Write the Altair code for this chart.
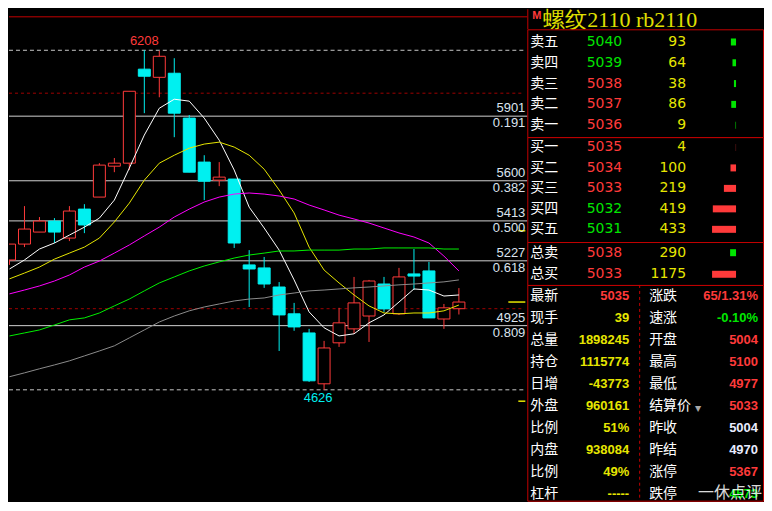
import altair as alt
import pandas as pd

# ---------------- candles ----------------
opens  = [5231, 5305, 5361, 5412, 5333, 5468, 5524, 5668, 5682, 6120, 6082, 6101, 5892, 5687, 5603, 5608,
          5208, 5194, 5105, 4980, 4891, 4654, 4845, 4910, 4970, 5119, 4980, 5166, 5180, 4956, 5004]
highs  = [5305, 5482, 5431, 5426, 5482, 5491, 5682, 5706, 6017, 6208, 6205, 6171, 5906, 5719, 5687, 5608,
          5277, 5245, 5128, 5031, 4910, 4854, 5008, 5152, 5138, 5152, 5194, 5282, 5222, 5026, 5100]
lows   = [5208, 5291, 5361, 5310, 5319, 5356, 5524, 5640, 5650, 5915, 5989, 5803, 5640, 5510, 5575, 5287,
          5012, 5101, 4807, 4901, 4663, 4626, 4826, 4887, 4849, 4989, 4975, 5091, 4961, 4910, 4977]
closes = [5305, 5375, 5412, 5361, 5459, 5394, 5673, 5682, 6017, 6087, 6180, 5915, 5640, 5598, 5617, 5310,
          5189, 5119, 4975, 4919, 4668, 4821, 4938, 5031, 5133, 5003, 5152, 5156, 4961, 5008, 5035]

ma5  = [5189, 5231, 5282, 5310, 5347, 5384, 5426, 5510, 5659, 5813, 5938, 5980, 5971, 5892, 5789, 5650,
        5477, 5380, 5277, 5138, 4989, 4915, 4877, 4887, 4938, 4975, 5035, 5096, 5091, 5063, 5068]
ma10 = [5143, 5170, 5198, 5235, 5263, 5291, 5333, 5408, 5496, 5603, 5682, 5719, 5752, 5771, 5780, 5757,
        5719, 5654, 5557, 5450, 5291, 5184, 5124, 5068, 5017, 4984, 4980, 4984, 4984, 4994, 5021]
ma20 = [5073, 5091, 5110, 5133, 5161, 5198, 5226, 5263, 5301, 5343, 5384, 5431, 5468, 5501, 5524, 5538,
        5543, 5538, 5529, 5515, 5487, 5464, 5440, 5422, 5403, 5380, 5357, 5338, 5310, 5249, 5180]
ma40 = [4877, 4891, 4905, 4928, 4952, 4961, 4984, 5017, 5049, 5087, 5124, 5152, 5180, 5203, 5222, 5240,
        5254, 5263, 5273, 5273, 5277, 5277, 5277, 5282, 5282, 5287, 5287, 5287, 5287, 5282, 5282]
ma60 = [4687, 4705, 4724, 4742, 4761, 4784, 4807, 4831, 4868, 4905, 4942, 4970, 4994, 5012, 5026, 5040,
        5049, 5054, 5068, 5077, 5087, 5091, 5096, 5101, 5105, 5110, 5115, 5119, 5124, 5129, 5138]
ma_names = ["MA5", "MA10", "MA20", "MA40", "MA60"]

fib_levels = [5901, 5600, 5413, 5227, 4925]
fib_ratios = ["0.191", "0.382", "0.500", "0.618", "0.809"]
period_high, period_low = 6208, 4626
high_idx, low_idx = 9, 21
red_dash_levels = [6008, 5004]
last_price = 5035
limit_up, limit_down = 5367, 4573

# ---------------- quote panel ----------------
contract, code = "螺纹2110", "rb2110"
sell_names  = ["卖五", "卖四", "卖三", "卖二", "卖一"]
sell_prices = [5040, 5039, 5038, 5037, 5036]
sell_qty    = [93, 64, 38, 86, 9]
sell_dir    = ["down", "down", "up", "up", "up"]
buy_names   = ["买一", "买二", "买三", "买四", "买五"]
buy_prices  = [5035, 5034, 5033, 5032, 5031]
buy_qty     = [4, 100, 219, 419, 433]
buy_dir     = ["up", "up", "up", "down", "down"]
tot_names   = ["总卖", "总买"]
tot_prices  = [5038, 5033]
tot_qty     = [290, 1175]
tot_side    = ["sell", "buy"]

stat_l_names = ["最新", "现手", "总量", "持仓", "日增", "外盘", "比例", "内盘", "比例", "杠杆"]
stat_l_vals  = ["5035", "39", "1898245", "1115774", "-43773", "960161", "51%", "938084", "49%", "-----"]
stat_l_dir   = ["up", "qty", "qty", "qty", "qty", "qty", "qty", "qty", "qty", "qty"]
stat_r_names = ["涨跌", "速涨", "开盘", "最高", "最低", "结算价", "昨收", "昨结", "涨停", "跌停"]
stat_r_vals  = ["65/1.31%", "-0.10%", "5004", "5100", "4977", "5033", "5004", "4970", "5367", "4573"]
stat_r_dir   = ["up", "down", "up", "up", "up", "up", "flat", "flat", "up", "down"]
watermark = "一休点评"

# ---------------- styles ----------------
RED, CYAN, GREEN, YELLOW = "#FF3A3A", "#00F0F0", "#00E600", "#E6E600"
BORDER, LBL, FLAT = "#C40000", "#DCE4EE", "#E8ECFF"
CJK = "Noto Sans CJK SC"
LEFT_W, H, RP_W = 519, 492, 236

# ================= left: candlestick chart =================
N = len(opens)
cdf = pd.DataFrame({"i": list(range(N)), "o": opens, "h": highs, "l": lows, "c": closes})
xs = alt.Scale(domain=[-1 / 30, -1 / 30 + LEFT_W / 15], nice=False, zero=False)
ys = alt.Scale(domain=[4109.5, 6398.8], nice=False, zero=False)


def X(f):
    return alt.X(f, scale=xs, axis=None)


def Y(f):
    return alt.Y(f, scale=ys, axis=None)


dir_stroke = alt.Scale(domain=["up", "down"], range=[RED, CYAN])
dir_fill = alt.Scale(domain=["up", "down"], range=["#000000", CYAN])

base = alt.Chart(cdf).transform_calculate(
    dir="datum.c >= datum.o ? 'up' : 'down'", xa="datum.i - 0.4", xb="datum.i + 0.4"
)
wicks = base.mark_rule(clip=True, strokeWidth=1).encode(
    x=X("i:Q"), y=Y("l:Q"), y2="h:Q", stroke=alt.Stroke("dir:N", scale=dir_stroke, legend=None)
)
bodies = base.mark_rect(clip=True, strokeWidth=1).encode(
    x=X("xa:Q"), x2="xb:Q", y=Y("o:Q"), y2="c:Q",
    fill=alt.Fill("dir:N", scale=dir_fill, legend=None),
    stroke=alt.Stroke("dir:N", scale=dir_stroke, legend=None),
)

ma_df = pd.DataFrame({
    "i": list(range(N)) * 5,
    "v": ma5 + ma10 + ma20 + ma40 + ma60,
    "ma": sum([[m] * N for m in ma_names], []),
})
ma_lines = alt.Chart(ma_df).mark_line(clip=True, strokeWidth=1).encode(
    x=X("i:Q"), y=Y("v:Q"),
    color=alt.Color("ma:N", scale=alt.Scale(domain=ma_names,
                    range=["#FFFFFF", "#E6E600", "#FF00FF", "#00F000", "#8C8C8C"]), legend=None),
)

one = pd.DataFrame({"a": [0]})
top_line = alt.Chart(one).mark_rule(color=BORDER, strokeWidth=1).encode(
    x=alt.value(0), x2=alt.value(LEFT_W), y=alt.value(7.5))

fib_df = pd.DataFrame({"p": fib_levels, "r": fib_ratios})
fib_lines = alt.Chart(fib_df).mark_rule(color="#D2D2D2", strokeWidth=1).encode(
    y=Y("p:Q"), x=alt.value(0), x2=alt.value(LEFT_W))
fib_num = alt.Chart(fib_df).mark_text(align="right", baseline="middle", dy=-8, font="Liberation Sans",
                                      fontSize=13, color=LBL).encode(
    x=alt.value(517), y=Y("p:Q"), text=alt.Text("p:Q", format="d"))
fib_rat = alt.Chart(fib_df).mark_text(align="right", baseline="middle", dy=7, font="Liberation Sans",
                                      fontSize=13, color=LBL).encode(
    x=alt.value(517), y=Y("p:Q"), text="r:N")

ext_df = pd.DataFrame({"i": [high_idx, low_idx], "p": [period_high, period_low], "k": ["high", "low"]})
ext_lines = alt.Chart(ext_df).mark_rule(color="#C8C8C8", strokeDash=[4, 3], strokeWidth=1).encode(
    y=Y("p:Q"), x=alt.value(0), x2=alt.value(515))
hi_lbl = alt.Chart(ext_df).transform_filter("datum.k == 'high'").mark_text(
    align="center", baseline="middle", dy=-9, font="Liberation Sans", fontSize=13, color=RED).encode(
    x=X("i:Q"), y=Y("p:Q"), text=alt.Text("p:Q", format="d"))
lo_lbl = alt.Chart(ext_df).transform_filter("datum.k == 'low'").mark_text(
    align="center", baseline="middle", dy=8, dx=-6, font="Liberation Sans", fontSize=13, color=CYAN).encode(
    x=X("i:Q"), y=Y("p:Q"), text=alt.Text("p:Q", format="d"))

rd_df = pd.DataFrame({"p": red_dash_levels})
red_dash = alt.Chart(rd_df).mark_rule(color="#A00000", strokeDash=[3, 3], strokeWidth=1).encode(
    y=Y("p:Q"), x=alt.value(0), x2=alt.value(515))

mk_df = pd.DataFrame({"p": [last_price, limit_up, limit_down], "k": ["last", "limit", "limit"]})
mk_last = alt.Chart(mk_df).transform_filter("datum.k == 'last'").mark_rule(color=YELLOW, strokeWidth=1.5).encode(
    y=Y("p:Q"), x=alt.value(500), x2=alt.value(517))
mk_lim = alt.Chart(mk_df).transform_filter("datum.k == 'limit'").mark_rule(color=YELLOW, strokeWidth=1.5).encode(
    y=Y("p:Q"), x=alt.value(510), x2=alt.value(517))

left = alt.layer(
    top_line, fib_lines, ext_lines, red_dash, wicks, bodies, ma_lines,
    mk_last, mk_lim, fib_num, fib_rat, hi_lbl, lo_lbl,
).resolve_scale(color="independent", stroke="independent", fill="independent").properties(
    width=LEFT_W, height=H)

# ================= right: quote panel =================
dir_color = alt.Scale(domain=["up", "down", "flat", "qty"], range=[RED, GREEN, FLAT, YELLOW])
side_color = alt.Scale(domain=["sell", "buy"], range=[GREEN, RED])
box_view = alt.ViewBackground(fill="#000000", stroke=BORDER, strokeWidth=1)


def row_y(n, rng):
    return alt.Y("row:Q", scale=alt.Scale(domain=[0, n - 1], range=rng, nice=False, zero=False), axis=None)


def book(names, prices, qty, dirs, sides, rng, h, qscale):
    df = pd.DataFrame({"row": list(range(len(names))), "name": names, "price": prices,
                       "q": qty, "dir": dirs, "side": sides})
    yy = row_y(len(names), rng)
    b = alt.Chart(df)
    t_name = b.mark_text(align="left", baseline="middle", font=CJK, fontSize=14, color="#FFFFFF").encode(
        x=alt.value(3), y=yy, text="name:N")
    t_price = b.mark_text(align="right", baseline="middle", font="DejaVu Sans", fontSize=14).encode(
        x=alt.value(95), y=yy, text=alt.Text("price:Q", format="d"),
        color=alt.Color("dir:N", scale=dir_color, legend=None))
    t_qty = b.mark_text(align="right", baseline="middle", font="DejaVu Sans", fontSize=14, color=YELLOW).encode(
        x=alt.value(159), y=yy, text=alt.Text("q:Q", format="d"))
    bars = b.mark_rule(strokeWidth=7).encode(
        x=alt.X("q:Q", scale=qscale, axis=None), x2=alt.datum(0), y=yy,
        stroke=alt.Stroke("side:N", scale=side_color, legend=None))
    return alt.layer(t_name, t_price, t_qty, bars).resolve_scale(
        color="independent", stroke="independent").properties(width=RP_W, height=h, view=box_view)


q_scale = alt.Scale(domain=[0, 1000], range=[209, 153.5], nice=False, zero=False)
sell_box = book(sell_names, sell_prices, sell_qty, sell_dir, ["sell"] * 5, [12.7, 96], 108, q_scale)
buy_box = book(buy_names, buy_prices, buy_qty, buy_dir, ["buy"] * 5, [10.3, 92.3], 105, q_scale)
tot_box = book(tot_names, tot_prices, tot_qty, ["up", "up"], tot_side, [10.7, 32.3], 43,
               alt.Scale(domain=[0, 1175], range=[209, 185], nice=False, zero=False))

head_df = pd.DataFrame({"t": [contract + " " + code]})
head_title = alt.Chart(head_df).mark_text(align="left", baseline="middle", font="Liberation Serif",
                                          fontSize=22, color="#E0E000").encode(
    x=alt.value(16), y=alt.value(11), text="t:N")
head_m = alt.Chart(one).mark_text(align="left", baseline="middle", font="Liberation Sans", fontSize=11,
                                  fontWeight="bold", color=RED).encode(
    x=alt.value(5), y=alt.value(6.5), text=alt.value("M"))
head_rule = alt.Chart(one).mark_rule(color=BORDER, strokeWidth=1).encode(
    x=alt.value(0.5), y=alt.value(0), y2=alt.value(20))
head = alt.layer(head_rule, head_title, head_m).properties(
    width=RP_W, height=20, view=alt.ViewBackground(fill="#000000", stroke="transparent"))

sdf = pd.DataFrame({"row": list(range(len(stat_l_names))), "l1": stat_l_names, "v1": stat_l_vals,
                    "d1": stat_l_dir, "l2": stat_r_names, "v2": stat_r_vals, "d2": stat_r_dir})
sy = row_y(len(stat_l_names), [11, 209.3])
sb = alt.Chart(sdf)
s_l1 = sb.mark_text(align="left", baseline="middle", font=CJK, fontSize=14, color="#FFFFFF").encode(
    x=alt.value(3), y=sy, text="l1:N")
s_v1 = sb.mark_text(align="right", baseline="middle", font="Liberation Sans", fontSize=13,
                    fontWeight="bold").encode(
    x=alt.value(102), y=sy, text="v1:N", color=alt.Color("d1:N", scale=dir_color, legend=None))
s_l2 = sb.mark_text(align="left", baseline="middle", font=CJK, fontSize=14, color="#FFFFFF").encode(
    x=alt.value(122), y=sy, text="l2:N")
s_v2 = sb.mark_text(align="right", baseline="middle", font="Liberation Sans", fontSize=13,
                    fontWeight="bold").encode(
    x=alt.value(231), y=sy, text="v2:N", color=alt.Color("d2:N", scale=dir_color, legend=None))
s_tri = sb.transform_filter("datum.l2 == '结算价'").mark_text(
    align="center", baseline="middle", dy=3, fontSize=8, color="#A8A8A8", font="DejaVu Sans").encode(
    x=alt.value(171), y=sy, text=alt.value("▼"))
s_div = alt.Chart(one).mark_rule(color=BORDER, strokeDash=[3, 3], strokeWidth=1).encode(
    x=alt.value(112.5), y=alt.value(0), y2=alt.value(216))
s_wm = alt.Chart(pd.DataFrame({"w": [watermark]})).mark_text(
    align="right", baseline="middle", font=CJK, fontSize=16, color="#FFFFFF", opacity=0.85).encode(
    x=alt.value(235), y=alt.value(208.5), text="w:N")
stats_box = alt.layer(s_div, s_l1, s_v1, s_l2, s_v2, s_tri, s_wm).resolve_scale(
    color="independent").properties(width=RP_W, height=216, view=box_view)

right = alt.vconcat(head, sell_box, buy_box, tot_box, stats_box, spacing=0, bounds="flush").resolve_scale(
    x="independent", y="independent", color="independent", stroke="independent", fill="independent")

chart = alt.hconcat(left, right, spacing=0, bounds="flush").resolve_scale(
    x="independent", y="independent", color="independent", stroke="independent", fill="independent"
).properties(padding=0, background="#000000").configure_view(stroke="transparent", fill="#000000")

chart.save("out.html", embed_options={"renderer": "svg", "actions": False})
